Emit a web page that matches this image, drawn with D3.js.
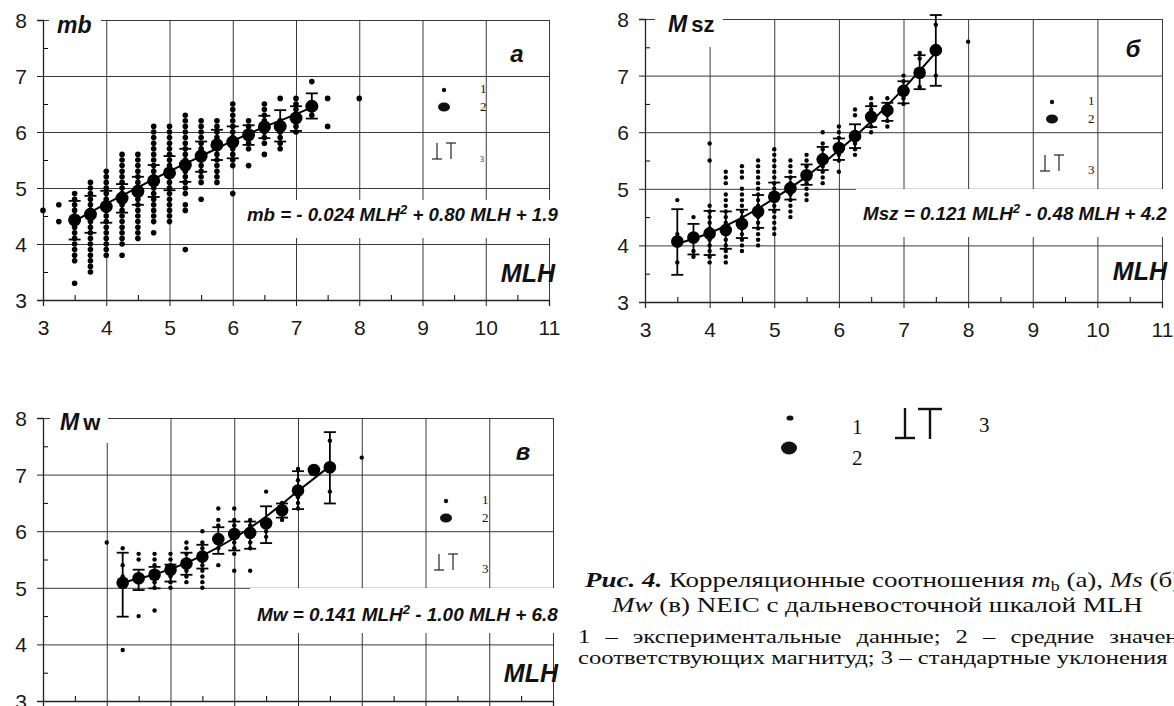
<!DOCTYPE html>
<html>
<head>
<meta charset="utf-8">
<script src="https://cdn.jsdelivr.net/npm/d3@7"></script>
<style>
body { margin: 0; background: #fff; }
svg { display: block; }
</style>
</head>
<body>
<div id="chart"></div>
<script>

const mlhTicks = [3, 4, 5, 6, 7, 8, 9, 10, 11]
const mlhMinor = [3.5, 4.5, 5.5, 6.5, 7.5, 8.5, 9.5, 10.5]
const magTicks = [3, 4, 5, 6, 7, 8]
const magMinor = [3.5, 4.5, 5.5, 6.5, 7.5]

// --- panel a: mb ---
const mbBins = [3.5, 3.75, 4.0, 4.25, 4.5, 4.75, 5.0, 5.25, 5.5, 5.75, 6.0, 6.25, 6.5, 6.75, 7.0, 7.25]
const mbMean = [4.43, 4.53, 4.67, 4.82, 4.94, 5.13, 5.27, 5.41, 5.57, 5.77, 5.82, 5.95, 6.09, 6.10, 6.25, 6.46]
const mbLow = [4.08, 4.20, 4.38, 4.56, 4.70, 4.84, 4.96, 5.11, 5.29, 5.50, 5.53, 5.77, 5.89, 5.83, 6.02, 6.24]
const mbHigh = [4.77, 4.86, 4.95, 5.07, 5.20, 5.41, 5.57, 5.70, 5.83, 6.04, 6.10, 6.12, 6.29, 6.39, 6.46, 6.69]
const mbFitX = [3.5, 4.0, 4.5, 5.0, 5.5, 6.0, 6.5, 7.0, 7.25]
const mbFitY = [4.41, 4.72, 5.01, 5.30, 5.57, 5.84, 6.09, 6.32, 6.44]
const mbPoints = [
    [3.0, [4.6]],
    [3.25, [4.7, 4.4]],
    [3.5, [4.9, 4.8, 4.7, 4.6, 4.5, 4.4, 4.3, 4.2, 4.1, 4.0, 3.9, 3.8, 3.7, 3.3]],
    [3.75, [5.1, 5.0, 4.9, 4.8, 4.7, 4.6, 4.5, 4.4, 4.3, 4.2, 4.1, 4.0, 3.9, 3.8, 3.7, 3.6, 3.5]],
    [4.0, [5.3, 5.2, 5.1, 5.0, 4.9, 4.8, 4.7, 4.6, 4.5, 4.4, 4.3, 4.2, 4.1, 4.0, 3.9, 3.8]],
    [4.25, [5.6, 5.5, 5.4, 5.3, 5.2, 5.1, 5.0, 4.9, 4.8, 4.7, 4.6, 4.5, 4.4, 4.3, 4.2, 4.1, 4.0, 3.8]],
    [4.5, [5.6, 5.5, 5.4, 5.3, 5.2, 5.1, 5.0, 4.9, 4.8, 4.7, 4.6, 4.5, 4.4, 4.3, 4.2, 4.1]],
    [4.75, [6.1, 6.0, 5.9, 5.8, 5.7, 5.6, 5.5, 5.4, 5.3, 5.2, 5.1, 5.0, 4.9, 4.8, 4.7, 4.6, 4.5, 4.4, 4.2]],
    [5.0, [6.1, 6.0, 5.9, 5.8, 5.7, 5.6, 5.5, 5.4, 5.3, 5.2, 5.1, 5.0, 4.9, 4.8, 4.7, 4.6, 4.5, 4.4]],
    [5.25, [6.3, 6.2, 6.1, 6.0, 5.9, 5.8, 5.7, 5.6, 5.5, 5.4, 5.3, 5.2, 5.1, 5.0, 4.9, 4.7, 4.6, 3.9]],
    [5.5, [6.2, 6.1, 6.0, 5.9, 5.8, 5.7, 5.6, 5.5, 5.4, 5.3, 5.2, 5.1, 4.8]],
    [5.75, [6.2, 6.1, 6.0, 5.9, 5.8, 5.7, 5.6, 5.5, 5.4, 5.3, 5.2, 5.1]],
    [6.0, [6.5, 6.4, 6.3, 6.2, 6.1, 6.0, 5.9, 5.8, 5.7, 5.6, 5.5, 5.4, 4.9]],
    [6.25, [6.2, 6.1, 6.0, 5.9, 5.8, 5.7, 5.4]],
    [6.5, [6.5, 6.4, 6.3, 6.2, 6.1, 6.0, 5.9, 5.8, 5.6]],
    [6.75, [6.6, 6.2, 6.1, 6.0, 5.9, 5.8, 5.7]],
    [7.0, [6.6, 6.5, 6.4, 6.3, 6.2, 6.1, 6.0]],
    [7.25, [6.9, 6.5, 6.4, 6.3]],
    [7.5, [6.6, 6.1]],
    [8.0, [6.6]]
]

// --- panel б: Msz ---
const msBins = [3.5, 3.75, 4.0, 4.25, 4.5, 4.75, 5.0, 5.25, 5.5, 5.75, 6.0, 6.25, 6.5, 6.75, 7.0, 7.25, 7.5]
const msMean = [4.07, 4.14, 4.21, 4.27, 4.38, 4.60, 4.86, 5.01, 5.24, 5.52, 5.72, 5.93, 6.27, 6.39, 6.73, 7.05, 7.45]
const msLow = [3.48, 3.84, 3.83, 3.94, 4.13, 4.31, 4.63, 4.81, 5.07, 5.33, 5.51, 5.72, 6.09, 6.20, 6.51, 6.76, 6.82]
const msHigh = [4.64, 4.38, 4.61, 4.60, 4.63, 4.89, 5.11, 5.21, 5.43, 5.74, 5.89, 6.14, 6.46, 6.52, 6.90, 7.36, 8.07]
const msFitX = [3.5, 4.0, 4.5, 5.0, 5.5, 6.0, 6.5, 7.0, 7.5]
const msFitY = [4.03, 4.22, 4.49, 4.83, 5.22, 5.68, 6.19, 6.77, 7.41]
const msPoints = [
    [3.5, [4.8, 4.2, 3.7]],
    [3.75, [4.5, 4.2, 4.1, 3.9, 3.8]],
    [4.0, [5.8, 5.5, 4.7, 4.6, 4.5, 4.4, 4.3, 4.2, 4.1, 4.0, 3.9, 3.8, 3.7]],
    [4.25, [5.3, 5.2, 5.1, 4.9, 4.8, 4.7, 4.6, 4.5, 4.4, 4.3, 4.2, 4.1, 4.0, 3.9, 3.8, 3.7]],
    [4.5, [5.4, 5.3, 5.2, 5.0, 4.9, 4.8, 4.7, 4.6, 4.5, 4.4, 4.3, 4.2, 4.1, 4.0, 3.9]],
    [4.75, [5.5, 5.4, 5.3, 5.2, 5.1, 5.0, 4.9, 4.8, 4.7, 4.6, 4.5, 4.4, 4.3, 4.2, 4.1, 4.0]],
    [5.0, [5.7, 5.6, 5.5, 5.4, 5.3, 5.2, 5.1, 5.0, 4.9, 4.8, 4.7, 4.6, 4.5, 4.4, 4.3, 4.2]],
    [5.25, [5.5, 5.4, 5.3, 5.2, 5.1, 5.0, 4.9, 4.8, 4.7, 4.6, 4.5]],
    [5.5, [5.6, 5.5, 5.4, 5.3, 5.2, 5.1, 5.0, 4.9, 4.8]],
    [5.75, [6.0, 5.8, 5.7, 5.6, 5.5, 5.4, 5.3, 5.2, 5.1]],
    [6.0, [6.1, 6.0, 5.9, 5.8, 5.7, 5.6, 5.5, 5.3]],
    [6.25, [6.4, 6.3, 6.0, 5.9, 5.8, 5.7, 5.6]],
    [6.5, [6.6, 6.5, 6.4, 6.3, 6.2, 6.1, 6.0]],
    [6.75, [6.6, 6.5, 6.4, 6.3, 6.2, 6.1]],
    [7.0, [7.0, 6.9, 6.8, 6.6, 6.5]],
    [7.25, [7.4, 7.3, 6.8]],
    [7.5, [7.9, 7.0]],
    [8.0, [7.6]]
]

// --- panel в: Mw ---
const mwBins = [4.25, 4.5, 4.75, 5.0, 5.25, 5.5, 5.75, 6.0, 6.25, 6.5, 6.75, 7.0, 7.25, 7.5]
const mwMean = [5.09, 5.17, 5.23, 5.32, 5.43, 5.55, 5.86, 5.95, 5.97, 6.14, 6.37, 6.72, 7.08, 7.13]
const mwLow = [4.49, 4.96, 4.99, 5.11, 5.23, 5.34, 5.60, 5.66, 5.69, 5.79, 6.24, 6.39, null, 6.49]
const mwHigh = [5.62, 5.32, 5.37, 5.41, 5.62, 5.76, 6.07, 6.17, 6.17, 6.44, 6.49, 7.06, null, 7.75]
const mwFitX = [4.25, 4.5, 5.0, 5.5, 6.0, 6.5, 7.0, 7.5]
const mwFitY = [5.10, 5.16, 5.33, 5.57, 5.88, 6.26, 6.71, 7.15]
const mwPoints = [
    [4.0, [5.8]],
    [4.25, [5.7, 5.4, 5.2, 3.9]],
    [4.5, [5.6, 5.5, 5.2, 5.1, 4.5]],
    [4.75, [5.6, 5.5, 5.4, 5.3, 5.1, 5.0, 4.6]],
    [5.0, [5.6, 5.5, 5.4, 5.3, 5.2, 5.1, 5.0]],
    [5.25, [5.8, 5.7, 5.6, 5.5, 5.4, 5.3, 5.2, 5.1]],
    [5.5, [6.0, 5.8, 5.7, 5.6, 5.5, 5.4, 5.3, 5.2, 5.1, 5.0]],
    [5.75, [6.4, 6.2, 6.1, 5.7, 5.4]],
    [6.0, [6.4, 6.2, 6.1, 5.8, 5.7, 5.6, 5.3]],
    [6.25, [6.2, 6.1, 5.8, 5.7, 5.3]],
    [6.5, [6.7, 6.0, 5.9]],
    [6.75, [6.5, 6.4, 6.3, 6.2]],
    [7.0, [7.1, 6.9, 6.6, 6.5, 6.4]],
    [7.5, [7.6, 6.7]],
    [8.0, [7.3]]
]

const sans = "'Liberation Sans', Arial, sans-serif"
const serif = "'Liberation Serif', 'Times New Roman', serif"

const svg = d3.select("#chart")
    .append("svg")
    .attr("width", 1174)
    .attr("height", 706)

// fit a text element to a given width by changing its font size
function fitWidth(sel, target) {
    const fs = parseFloat(sel.attr("font-size"))
    const w = sel.node().getComputedTextLength()
    sel.attr("font-size", fs * target / w)
    return fs * target / w
}

function drawPanel(p) {
    const x = d3.scaleLinear().domain([3, 11]).range([p.left, p.right])
    const y = d3.scaleLinear().domain([3, 8]).range([p.bottom, p.top])
    const g = svg.append("g")
    const w = p.right - p.left
    const h = p.bottom - p.top

    // grid
    g.append("g")
        .attr("transform", "translate(0," + p.bottom + ")")
        .call(d3.axisBottom(x).tickValues(mlhTicks.slice(1)).tickSizeInner(-h).tickSizeOuter(0).tickFormat(""))
        .call(a => a.select(".domain").remove())
        .selectAll("line").attr("stroke", "#3a3a3a")
    g.append("g")
        .attr("transform", "translate(" + p.left + ",0)")
        .call(d3.axisLeft(y).tickValues(magTicks.slice(1)).tickSizeInner(-w).tickSizeOuter(0).tickFormat(""))
        .call(a => a.select(".domain").remove())
        .selectAll("line").attr("stroke", "#3a3a3a")

    // minor ticks
    g.append("g")
        .attr("transform", "translate(0," + p.bottom + ")")
        .call(d3.axisBottom(x).tickValues(mlhMinor).tickSizeInner(-5).tickSizeOuter(0).tickFormat(""))
        .call(a => a.select(".domain").remove())
    g.append("g")
        .attr("transform", "translate(" + p.left + ",0)")
        .call(d3.axisLeft(y).tickValues(magMinor).tickSizeInner(-5).tickSizeOuter(0).tickFormat(""))
        .call(a => a.select(".domain").remove())

    // main axes with labels
    const xa = g.append("g")
        .attr("transform", "translate(0," + p.bottom + ")")
        .call(d3.axisBottom(x).tickValues(mlhTicks).tickSize(6).tickPadding(14)
            .tickFormat(p.xLabels ? d3.format("d") : ""))
    const ya = g.append("g")
        .attr("transform", "translate(" + p.left + ",0)")
        .call(d3.axisLeft(y).tickValues(magTicks).tickSize(6).tickPadding(10).tickFormat(d3.format("d")))
    ;[xa, ya].forEach(a => {
        a.select(".domain").attr("stroke", "#222").attr("stroke-width", 1.3)
        a.selectAll("line").attr("stroke", "#222")
        a.selectAll("text").attr("font-family", sans).attr("font-size", 21).attr("fill", "#1a1a1a")
    })
    ya.selectAll("text").attr("dy", "0.36em")

    // quantity label box (top left)
    g.append("rect")
        .attr("x", p.nameBox[0]).attr("y", p.nameBox[1])
        .attr("width", p.nameBox[2]).attr("height", p.nameBox[3])
        .attr("fill", "#fff")
    const nm = g.append("text")
        .attr("x", p.namePos[0]).attr("y", p.namePos[1])
        .attr("font-family", sans).attr("font-weight", "bold")
        .attr("font-size", 23).attr("fill", "#111")
    nm.append("tspan").attr("font-style", "italic").text(p.name[0])
    if (p.name[1]) nm.append("tspan").attr("dx", 4).attr("font-size", 22).text(p.name[1])

    // equation box
    g.append("rect")
        .attr("x", p.eqBox[0]).attr("y", p.eqBox[1])
        .attr("width", p.eqBox[2]).attr("height", p.eqBox[3])
        .attr("fill", "#fff")
    const eq = g.append("text")
        .attr("x", p.eqPos[0]).attr("y", p.eqPos[1])
        .attr("font-family", sans).attr("font-weight", "bold").attr("font-style", "italic")
        .attr("font-size", 17).attr("fill", "#111")
    eq.append("tspan").text(p.eq[0])
    eq.append("tspan").attr("dy", -7).attr("font-size", "0.7em").text("2")
    eq.append("tspan").attr("dy", 7).text(p.eq[1])
    fitWidth(eq, p.eqPos[2])

    // MLH axis title
    g.append("text")
        .attr("x", p.titlePos[0]).attr("y", p.titlePos[1])
        .attr("text-anchor", "end")
        .attr("font-family", sans).attr("font-weight", "bold").attr("font-style", "italic")
        .attr("font-size", 25).attr("fill", "#111")
        .text("MLH")

    // panel letter
    g.append("text")
        .attr("x", p.letterPos[0]).attr("y", p.letterPos[1])
        .attr("text-anchor", "middle")
        .attr("font-family", sans).attr("font-weight", "bold").attr("font-style", "italic")
        .attr("font-size", 24).attr("fill", "#111")
        .text(p.letter)

    // legend inside panel
    const L = p.legend
    g.append("circle").attr("cx", L.x).attr("cy", L.y).attr("r", 2.2).attr("fill", "#111")
    g.append("ellipse").attr("cx", L.x).attr("cy", L.y + 17).attr("rx", 6).attr("ry", 4.6).attr("fill", "#111")
    const lt = [["1", L.y + 3, 13], ["2", L.y + 21, 13], ["3", L.y + 72, p.small3 ? 8 : 13]]
    lt.forEach(t => {
        g.append("text").attr("x", L.x + 36).attr("y", t[1])
            .attr("font-family", serif).attr("font-size", t[2]).attr("fill", "#111")
            .text(t[0])
    })
    const ty = L.y + 53
    const perp = [
        [L.x - 7, ty, L.x - 7, ty + 16], [L.x - 12, ty + 16, L.x - 2, ty + 16],
        [L.x + 7, ty, L.x + 7, ty + 16], [L.x + 2, ty, L.x + 12, ty]
    ]
    g.selectAll(".perp").data(perp).enter().append("line")
        .attr("x1", d => d[0]).attr("y1", d => d[1]).attr("x2", d => d[2]).attr("y2", d => d[3])
        .attr("stroke", "#222").attr("stroke-width", 1.2)

    // experimental points
    const flat = []
    p.points.forEach(c => c[1].forEach(v => flat.push([c[0], v])))
    g.append("g").selectAll("circle").data(flat).enter().append("circle")
        .attr("cx", d => x(d[0])).attr("cy", d => y(d[1]))
        .attr("r", p.dotR).attr("fill", "#000")

    // fit curve
    const fit = p.fitX.map((v, i) => [v, p.fitY[i]])
    g.append("path")
        .datum(fit)
        .attr("d", d3.line().x(d => x(d[0])).y(d => y(d[1])).curve(d3.curveMonotoneX))
        .attr("fill", "none").attr("stroke", "#000").attr("stroke-width", 2)

    // error bars
    const eb = p.bins.map((b, i) => ({ b: b, lo: p.low[i], hi: p.high[i] })).filter(d => d.lo != null)
    const ebg = g.append("g").attr("stroke", "#000").attr("stroke-width", 1.8)
    ebg.selectAll(".v").data(eb).enter().append("line")
        .attr("x1", d => x(d.b)).attr("x2", d => x(d.b))
        .attr("y1", d => y(d.lo)).attr("y2", d => y(d.hi))
    ebg.selectAll(".lo").data(eb).enter().append("line")
        .attr("x1", d => x(d.b) - 6).attr("x2", d => x(d.b) + 6)
        .attr("y1", d => y(d.lo)).attr("y2", d => y(d.lo))
    ebg.selectAll(".hi").data(eb).enter().append("line")
        .attr("x1", d => x(d.b) - 6).attr("x2", d => x(d.b) + 6)
        .attr("y1", d => y(d.hi)).attr("y2", d => y(d.hi))

    // means
    g.append("g").selectAll("circle").data(p.bins).enter().append("circle")
        .attr("cx", d => x(d)).attr("cy", (d, i) => y(p.mean[i]))
        .attr("r", p.meanR).attr("fill", "#000")
}

drawPanel({
    left: 43, right: 549, top: 20, bottom: 300, xLabels: true,
    name: ["mb"], nameBox: [49, 4, 52, 30], namePos: [57, 33],
    eq: ["mb = - 0.024 MLH", "  + 0.80 MLH + 1.9"], eqBox: [240, 200, 320, 38], eqPos: [247, 221, 311],
    titlePos: [555, 282], letter: "а", letterPos: [517, 62],
    legend: { x: 444, y: 90 }, small3: true,
    points: mbPoints, bins: mbBins, mean: mbMean, low: mbLow, high: mbHigh,
    fitX: mbFitX, fitY: mbFitY, dotR: 2.8, meanR: 6.5
})

drawPanel({
    left: 645, right: 1162, top: 19, bottom: 302, xLabels: true,
    name: ["M", "sz"], nameBox: [655, 2, 68, 45], namePos: [668, 32],
    eq: ["Msz = 0.121 MLH", "  - 0.48 MLH + 4.2"], eqBox: [856, 189, 318, 48], eqPos: [863, 220, 304],
    titlePos: [1167, 280], letter: "б", letterPos: [1133, 57],
    legend: { x: 1052, y: 102 }, small3: false,
    points: msPoints, bins: msBins, mean: msMean, low: msLow, high: msHigh,
    fitX: msFitX, fitY: msFitY, dotR: 2.2, meanR: 6.3
})

// bottom panel: its x tick labels fall below the picture, so they are not drawn
drawPanel({
    left: 43, right: 553, top: 418, bottom: 701, xLabels: false,
    name: ["M", "w"], nameBox: [50, 405, 58, 38], namePos: [60, 430],
    eq: ["Mw = 0.141 MLH", "  - 1.00 MLH + 6.8"], eqBox: [250, 588, 310, 45], eqPos: [257, 621, 301],
    titlePos: [558, 682], letter: "в", letterPos: [523, 460],
    legend: { x: 446, y: 501 }, small3: false,
    points: mwPoints, bins: mwBins, mean: mwMean, low: mwLow, high: mwHigh,
    fitX: mwFitX, fitY: mwFitY, dotR: 2.2, meanR: 6.3
})

// shared legend in the middle
const lg = svg.append("g")
lg.append("ellipse").attr("cx", 790).attr("cy", 418).attr("rx", 3.5).attr("ry", 2.6).attr("fill", "#111")
lg.append("ellipse").attr("cx", 789).attr("cy", 448).attr("rx", 8).attr("ry", 6.5).attr("fill", "#111")
;[["1", 852, 434], ["2", 852, 465], ["3", 979, 432]].forEach(t => {
    lg.append("text").attr("x", t[1]).attr("y", t[2])
        .attr("font-family", serif).attr("font-size", 21).attr("fill", "#111").text(t[0])
})
const bigPerp = [[905, 408, 905, 438], [895, 438, 915, 438], [930, 409, 930, 439], [918, 409, 942, 409]]
lg.selectAll(".bp").data(bigPerp).enter().append("line")
    .attr("x1", d => d[0]).attr("y1", d => d[1]).attr("x2", d => d[2]).attr("y2", d => d[3])
    .attr("stroke", "#111").attr("stroke-width", 2.4)

// caption: the scanned text is wider than a normal font, so it is stretched sideways
const cap = svg.append("g").attr("font-family", serif).attr("fill", "#111")

const capA = cap.append("g")
const c2 = capA.append("text").attr("x", 612).attr("y", 612).attr("font-size", 21)
c2.append("tspan").attr("font-style", "italic").text("Mw")
c2.append("tspan").text(" (в) NEIC с дальневосточной шкалой MLH")
const sx1 = 531 / c2.node().getComputedTextLength()
c2.attr("x", 0).attr("transform", "translate(612,0) scale(" + sx1 + ",1)")

const c1 = capA.append("text").attr("x", 0).attr("y", 587).attr("font-size", 21)
    .attr("transform", "translate(585,0) scale(" + sx1 + ",1)")
c1.append("tspan").attr("font-weight", "bold").attr("font-style", "italic").text("Рис. 4.")
c1.append("tspan").text(" Корреляционные соотношения ")
c1.append("tspan").attr("font-style", "italic").text("m")
c1.append("tspan").attr("font-size", 14).attr("dy", 4).text("b")
c1.append("tspan").attr("dy", -4).text(" (а), ")
c1.append("tspan").attr("font-style", "italic").text("Ms")
c1.append("tspan").text(" (б) и")

const notes = ["1 – экспериментальные данные; 2 – средние значения",
               "соответствующих магнитуд; 3 – стандартные уклонения"]
const n2 = cap.append("text").attr("x", 0).attr("y", 664).attr("font-size", 18).text(notes[1])
const sx2 = 590 / n2.node().getComputedTextLength()
n2.attr("transform", "translate(578,0) scale(" + sx2 + ",1)")
const n1 = cap.append("text").attr("x", 0).attr("y", 643).attr("font-size", 18).text(notes[0])
    .attr("transform", "translate(578,0) scale(" + sx2 + ",1)")
const nat = n1.node().getComputedTextLength()
n1.attr("word-spacing", Math.max(0, (625 / sx2 - nat) / (notes[0].split(" ").length - 1)))

</script>
</body>
</html>
